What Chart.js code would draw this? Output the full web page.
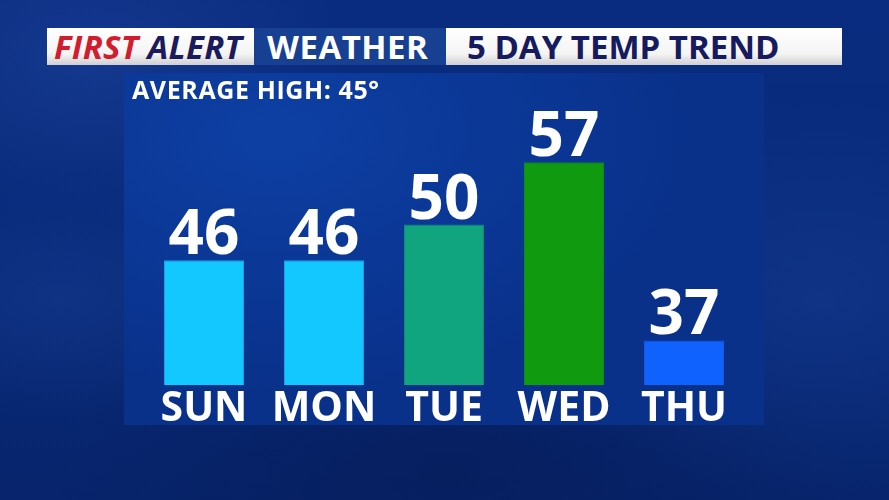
<!DOCTYPE html>
<html>
<head>
<meta charset="utf-8">
<script src="https://cdn.jsdelivr.net/npm/chart.js@4.4.1/dist/chart.umd.min.js"></script>
<style>
  html, body { margin: 0; padding: 0; }
  body {
    width: 889px; height: 500px; overflow: hidden; position: relative;
    font-family: 'Open Sans', sans-serif;
    background:
      radial-gradient(ellipse 260px 160px at 90px 60px, rgba(40,80,170,.35), transparent),
      radial-gradient(ellipse 300px 200px at 820px 300px, rgba(30,70,160,.35), transparent),
      radial-gradient(ellipse 200px 120px at 60px 300px, rgba(40,80,170,.25), transparent),
      radial-gradient(ellipse 400px 180px at 450px 470px, rgba(5,25,80,.5), transparent),
      linear-gradient(180deg, #0a2c80 0%, #082a7a 50%, #07246c 100%);
  }
  .hdr { position: absolute; top: 28px; height: 37px; box-sizing: border-box; font-weight: 700; font-size: 33px; line-height: 37px; }
  .white { background: linear-gradient(180deg, #ffffff 0%, #f4f4f4 70%, #cfcfd4 100%); }
  #h1 { left: 47px; width: 207px; font-style: italic; padding-left: 7px; letter-spacing: 0.3px; }
  #h1 .r { color: #d11d2e; }
  #h1 .n { color: #1b1a5c; }
  #h2 { left: 254px; width: 192px; background: #173f92; color: #fff; padding-left: 13px; letter-spacing: 0.5px; }
  #h3 { left: 446px; width: 396px; color: #161a5e; padding-left: 21px; }
  #panel {
    position: absolute; left: 124px; top: 73px; width: 640px; height: 352px;
    background: radial-gradient(ellipse 420px 260px at 150px 60px, #0d3fa3, #0a3592 70%, #09318a 100%);
  }
  #avg { position: absolute; left: 8px; top: -1px; color: #fff; font-size: 25px; font-weight: 700; letter-spacing: 0.6px; }
  canvas { position: absolute; left: 0; top: 0; }
</style>
</head>
<body>
<div class="hdr white" id="h1"><span class="r">FIRST</span> <span class="n">ALERT</span></div>
<div class="hdr" id="h2">WEATHER</div>
<div class="hdr white" id="h3">5 DAY TEMP TREND</div>
<div id="panel">
  <canvas id="c" width="640" height="360"></canvas>
  <div id="avg">AVERAGE HIGH: 45°</div>
</div>
<script>
// data
const days = ['SUN', 'MON', 'TUE', 'WED', 'THU'];
const highs = [46, 46, 50, 57, 37];
const barColors = ['#12c8ff', '#12c8ff', '#10a57e', '#109a10', '#0f62fe'];
const borderColors = ['#1a9ee8', '#1a9ee8', '#128a72', '#0f8a16', '#1a55e0'];

// value labels above each bar
const valueLabels = {
  id: 'valueLabels',
  afterDatasetsDraw(chart) {
    const ctx = chart.ctx;
    const meta = chart.getDatasetMeta(0);
    ctx.save();
    ctx.fillStyle = '#ffffff';
    ctx.font = "bold 62px 'Open Sans'";
    ctx.textAlign = 'center';
    ctx.textBaseline = 'alphabetic';
    meta.data.forEach((bar, i) => {
      ctx.fillText(String(highs[i]), bar.x, bar.y - 6);
    });
    ctx.restore();
  }
};

new Chart(document.getElementById('c'), {
  type: 'bar',
  data: {
    labels: days,
    datasets: [{
      data: highs,
      backgroundColor: barColors,
      borderColor: borderColors,
      borderWidth: 1,
      barPercentage: 0.667,
      categoryPercentage: 1
    }]
  },
  options: {
    responsive: false,
    animation: false,
    layout: { padding: { left: 20, right: 20, top: 0, bottom: 0 } },
    plugins: { legend: { display: false }, tooltip: { enabled: false } },
    scales: {
      x: {
        grid: { display: false, drawTicks: false },
        border: { display: false },
        ticks: { color: '#ffffff', padding: 0, font: { family: 'Open Sans', size: 41, weight: 'bold', lineHeight: '48px' } }
      },
      y: { display: false, min: 32, max: 67 }
    }
  },
  plugins: [valueLabels]
});
</script>
</body>
</html>
